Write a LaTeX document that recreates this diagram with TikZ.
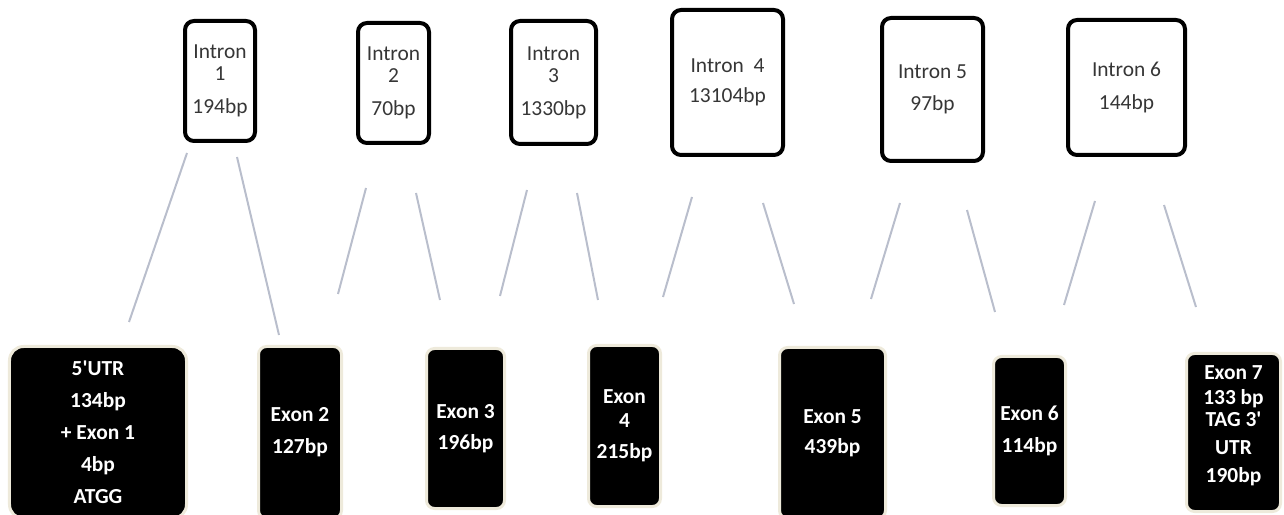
\documentclass[tikz,border=0pt]{standalone}
\usepackage{fontspec}
\setmainfont{Carlito}
\newfontfamily\carl{Carlito}
\definecolor{cream}{HTML}{EEEADB}
\definecolor{conncol}{HTML}{B9BECC}
\definecolor{introntext}{HTML}{363636}
\begin{document}
\begin{tikzpicture}[x=1bp,y=-1bp,
  intron/.style={draw=black, line width=4bp, rounded corners=9bp, inner sep=0pt,
    align=center, text=introntext, font=\carl\fontsize{21.5}{22}\selectfont},
  exon/.style={draw=cream, fill=black, line width=3bp, rounded corners=8bp, inner sep=0pt,
    align=center, text=white, font=\carl\fontsize{21.5}{22}\selectfont\bfseries},
  conn/.style={draw=conncol, line width=2bp}]
\useasboundingbox (0,0) rectangle (1284,515);

% Introns
\node[intron, minimum width=70bp, minimum height=120bp] (i1) at (220,81) {Intron\\1\\[11pt]194bp};
\node[intron, minimum width=71bp, minimum height=120bp] (i2) at (393.5,83) {Intron\\2\\[11pt]70bp};
\node[intron, minimum width=85bp, minimum height=123bp] (i3) at (553.5,82.5) {Intron\\3\\[11pt]1330bp};
\node[intron, minimum width=111bp, minimum height=145bp] (i4) at (727.5,82.5) {Intron\ \ 4\\[8pt]13104bp};
\node[intron, minimum width=101bp, minimum height=143bp] (i5) at (932.5,89.5) {Intron 5\\[10pt]97bp};
\node[intron, minimum width=117bp, minimum height=135bp] (i6) at (1126.5,87.5) {Intron 6\\[11pt]144bp};

% Exons
\node[exon, rounded corners=14bp, minimum width=177bp, minimum height=172bp] (e1) at (98,432.5)
  {5'UTR\\[10pt]134bp\\[10pt]+ Exon 1\\[10pt]4bp\\[10pt]ATGG};
\node[exon, minimum width=83bp, minimum height=172bp] (e2) at (300,432.5) {Exon 2\\[10pt]127bp};
\node[exon, minimum width=78bp, minimum height=160bp] (e3) at (465.5,428.5) {Exon 3\\[9pt]196bp};
\node[exon, minimum width=72bp, minimum height=161bp] (e4) at (624.5,426) {Exon\\[2pt]4\\[9pt]215bp};
\node[exon, minimum width=106bp, minimum height=171bp] (e5) at (832.5,433) {Exon 5\\[8pt]439bp};
\node[exon, minimum width=72bp, minimum height=149bp] (e6) at (1029.5,431) {Exon 6\\[10pt]114bp};
\node[exon, minimum width=94bp, minimum height=158bp, text depth=17bp] (e7) at (1233.5,432.5)
  {Exon 7\\[3pt]133 bp\\TAG 3'\\[6pt]UTR\\[6pt]190bp};

% Connector end points
\coordinate (c1a) at (187,153);  \coordinate (c1b) at (129,322);
\coordinate (c2a) at (237,157);  \coordinate (c2b) at (279,335);
\coordinate (c3a) at (366,188);  \coordinate (c3b) at (338,294);
\coordinate (c4a) at (416,193);  \coordinate (c4b) at (440,300);
\coordinate (c5a) at (527,190);  \coordinate (c5b) at (500,296);
\coordinate (c6a) at (577,193);  \coordinate (c6b) at (598,300);
\coordinate (c7a) at (692,197);  \coordinate (c7b) at (663,297);
\coordinate (c8a) at (763,203);  \coordinate (c8b) at (794,304);
\coordinate (c9a) at (900,203);  \coordinate (c9b) at (871,299);
\coordinate (c10a) at (967,210); \coordinate (c10b) at (995,312);
\coordinate (c11a) at (1095,201); \coordinate (c11b) at (1064,305);
\coordinate (c12a) at (1164,205); \coordinate (c12b) at (1196,307);

\foreach \k in {1,...,12} { \draw[conn] (c\k a) -- (c\k b); }
\end{tikzpicture}
\end{document}
